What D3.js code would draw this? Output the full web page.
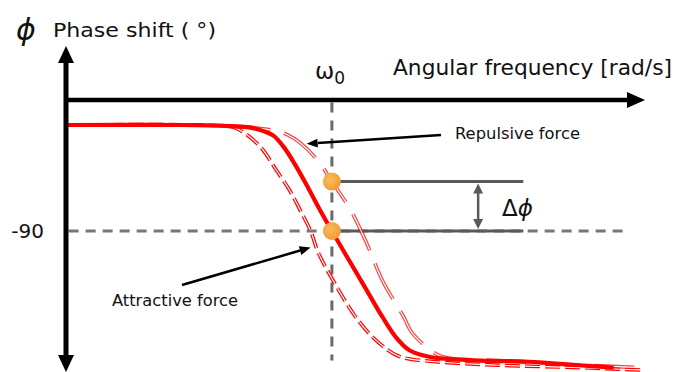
<!DOCTYPE html>
<html>
<head>
<meta charset="utf-8">
<script src="https://cdn.jsdelivr.net/npm/d3@7/dist/d3.min.js"></script>
<style>
  html, body { margin: 0; padding: 0; background: #fff; }
  svg { display: block; }
  text { font-family: "DejaVu Sans", sans-serif; fill: #111; }
</style>
</head>
<body>
<svg id="chart" width="680" height="372"></svg>
<script>
// Frequency as a ratio ω/ω0, phase in degrees.
const freqNominal = [0, 0.43, 0.62, 0.69, 0.74, 0.78, 0.82, 0.86, 0.91, 0.95, 1.00, 1.07, 1.13, 1.19, 1.24, 1.29, 1.37, 1.56, 1.74, 1.93, 2.06];
const phaseNominal = [0, 0, -1, -2, -5, -9, -19, -33, -53, -70, -90, -117, -140, -163, -180, -191, -197, -200, -201, -204, -206];

const freqAttractive = [0.01, 0.50, 0.63, 0.69, 0.74, 0.79, 0.84, 0.88, 0.92, 0.95, 1.02, 1.08, 1.14, 1.21, 1.26, 1.39, 1.63, 1.93, 2.16];
const phaseAttractive = [0, 0, -2, -10, -21, -38, -55, -72, -90, -109, -138, -160, -177, -191, -197, -201, -204, -206, -208];

const freqRepulsive = [0.01, 0.50, 0.69, 0.79, 0.83, 0.88, 0.95, 1.00, 1.07, 1.13, 1.19, 1.27, 1.30, 1.37, 1.42, 1.63, 1.86, 2.16];
const phaseRepulsive = [0, 0, -2, -5, -8, -15, -31, -48, -72, -100, -132, -163, -176, -191, -197, -200, -203, -206];

// Phase at ω0 for the nominal and the shifted (repulsive) response
const markerFreq = [1, 1];
const markerPhase = [-90, -48];

const yTicks = [-90];
const yTickLabels = ["-90"];

const svg = d3.select("#chart");
const x = d3.scaleLinear().domain([0, 2.17]).range([66, 643]);
const y = d3.scaleLinear().domain([0, -90]).range([125, 231]);

const zip = (a, b) => a.map((v, i) => [v, b[i]]);
const line = d3.line().x(d => x(d[0])).y(d => y(d[1])).curve(d3.curveCatmullRom.alpha(0.5));

// Reference guides: -90° level and ω0
const grey = "#6b6b6b";
svg.append("line")
  .attr("x1", x(0.01)).attr("x2", x(2.10))
  .attr("y1", y(-90)).attr("y2", y(-90))
  .attr("stroke", "#777").attr("stroke-width", 3).attr("stroke-dasharray", "10,7");
svg.append("line")
  .attr("x1", x(1)).attr("x2", x(1))
  .attr("y1", y(19)).attr("y2", y(-200))
  .attr("stroke", grey).attr("stroke-width", 3).attr("stroke-dasharray", "10,8");

// Solid level lines showing Δφ
[-48, -90].forEach(p => {
  svg.append("line")
    .attr("x1", x(1)).attr("x2", x(1.72))
    .attr("y1", y(p)).attr("y2", y(p))
    .attr("stroke", "#5a5a5a").attr("stroke-width", 3);
});

// Double-headed arrow for Δφ
const ax = x(1.55);
const ya = y(-48) + 2, yb = y(-90) - 2;
svg.append("line").attr("x1", ax).attr("x2", ax).attr("y1", ya + 6).attr("y2", yb - 6)
  .attr("stroke", "#5a5a5a").attr("stroke-width", 2.5);
svg.append("path").attr("d", `M${ax},${ya} L${ax - 5},${ya + 10} L${ax + 5},${ya + 10} Z`).attr("fill", "#5a5a5a");
svg.append("path").attr("d", `M${ax},${yb} L${ax - 5},${yb - 10} L${ax + 5},${yb - 10} Z`).attr("fill", "#5a5a5a");

// Double-stroke dashed curves
function doubleDashed(data, dash, opacity) {
  const g = svg.append("g").attr("opacity", opacity);
  g.append("path").attr("d", line(data)).attr("fill", "none")
    .attr("stroke", "#ff0000").attr("stroke-width", 3.6).attr("stroke-dasharray", dash);
  g.append("path").attr("d", line(data)).attr("fill", "none")
    .attr("stroke", "#fff").attr("stroke-width", 1.2).attr("stroke-dasharray", dash);
}
doubleDashed(zip(freqAttractive, phaseAttractive), "15,5", 1);
doubleDashed(zip(freqRepulsive, phaseRepulsive), "40,14", 0.75);

// Nominal response
svg.append("path").attr("d", line(zip(freqNominal, phaseNominal)))
  .attr("fill", "none").attr("stroke", "#ff0000").attr("stroke-width", 4.2);

// Markers at ω0
const grad = svg.append("defs").append("radialGradient").attr("id", "dot")
  .attr("cx", "40%").attr("cy", "40%").attr("r", "65%");
grad.append("stop").attr("offset", "0%").attr("stop-color", "#fbbb5c");
grad.append("stop").attr("offset", "100%").attr("stop-color", "#f09a32");
svg.selectAll("circle.marker").data(zip(markerFreq, markerPhase)).enter()
  .append("circle").attr("class", "marker")
  .attr("cx", d => x(d[0])).attr("cy", d => y(d[1])).attr("r", 9)
  .attr("fill", "url(#dot)");

// Axes frame
const axisX = 66, axisY = 100;
svg.append("line").attr("x1", axisX).attr("x2", axisX).attr("y1", 60).attr("y2", 358)
  .attr("stroke", "#000").attr("stroke-width", 5);
svg.append("line").attr("x1", axisX - 2).attr("x2", 630).attr("y1", axisY).attr("y2", axisY)
  .attr("stroke", "#000").attr("stroke-width", 4.5);
svg.append("path").attr("d", `M${axisX},46 L${axisX - 8},63 L${axisX + 8},63 Z`).attr("fill", "#000");
svg.append("path").attr("d", `M${axisX},372 L${axisX - 8},355 L${axisX + 8},355 Z`).attr("fill", "#000");
svg.append("path").attr("d", `M645,${axisY} L627,${axisY - 8} L627,${axisY + 8} Z`).attr("fill", "#000");

// Y tick label
const yAxis = d3.axisLeft(y).tickValues(yTicks).tickFormat((d, i) => yTickLabels[i])
  .tickSize(0).tickPadding(22);
const yg = svg.append("g").attr("transform", `translate(${axisX},0)`).call(yAxis);
yg.select(".domain").remove();
yg.selectAll("text").attr("font-size", 20).attr("font-family", "DejaVu Sans, sans-serif").attr("fill", "#111");

// Axis titles
svg.append("text").attr("x", 16).attr("y", 40)
  .attr("font-family", "DejaVu Serif, serif").attr("font-style", "italic").attr("font-size", 30)
  .text("ϕ");
svg.append("text").attr("x", 53).attr("y", 37).attr("font-size", 20)
  .attr("textLength", 163).attr("lengthAdjust", "spacingAndGlyphs").text("Phase shift ( °)");
svg.append("text").attr("x", 393).attr("y", 75).attr("font-size", 21)
  .attr("textLength", 279).attr("lengthAdjust", "spacingAndGlyphs").text("Angular frequency [rad/s]");

const w0 = svg.append("text").attr("x", x(1) - 17).attr("y", 79).attr("font-size", 23)
  .attr("font-family", "DejaVu Serif, serif");
w0.append("tspan").text("ω");
w0.append("tspan").attr("dy", 5).attr("font-size", 17).attr("font-family", "DejaVu Sans, sans-serif").text("0");

// Δφ label
const dl = svg.append("text").attr("x", x(1.64)).attr("y", 216).attr("font-size", 23)
  .attr("font-family", "DejaVu Serif, serif");
dl.append("tspan").text("Δ");
dl.append("tspan").attr("font-style", "italic").text("ϕ");

// Annotations
function arrow(x1, y1, x2, y2) {
  const ang = Math.atan2(y2 - y1, x2 - x1);
  const L = 11, Wd = 4.5;
  const bx = x2 - L * Math.cos(ang), by = y2 - L * Math.sin(ang);
  svg.append("line").attr("x1", x1).attr("y1", y1).attr("x2", bx).attr("y2", by)
    .attr("stroke", "#000").attr("stroke-width", 2.5);
  svg.append("path").attr("d",
    `M${x2},${y2} L${bx + Wd * Math.sin(ang)},${by - Wd * Math.cos(ang)} L${bx - Wd * Math.sin(ang)},${by + Wd * Math.cos(ang)} Z`)
    .attr("fill", "#000");
}
arrow(441, 135, x(0.905), y(-16));
svg.append("text").attr("x", 455).attr("y", 139).attr("font-size", 15)
  .attr("textLength", 125).attr("lengthAdjust", "spacingAndGlyphs").text("Repulsive force");

arrow(182, 285, x(0.92), y(-104));
svg.append("text").attr("x", 112).attr("y", 306).attr("font-size", 15)
  .attr("textLength", 126).attr("lengthAdjust", "spacingAndGlyphs").text("Attractive force");
</script>
</body>
</html>
